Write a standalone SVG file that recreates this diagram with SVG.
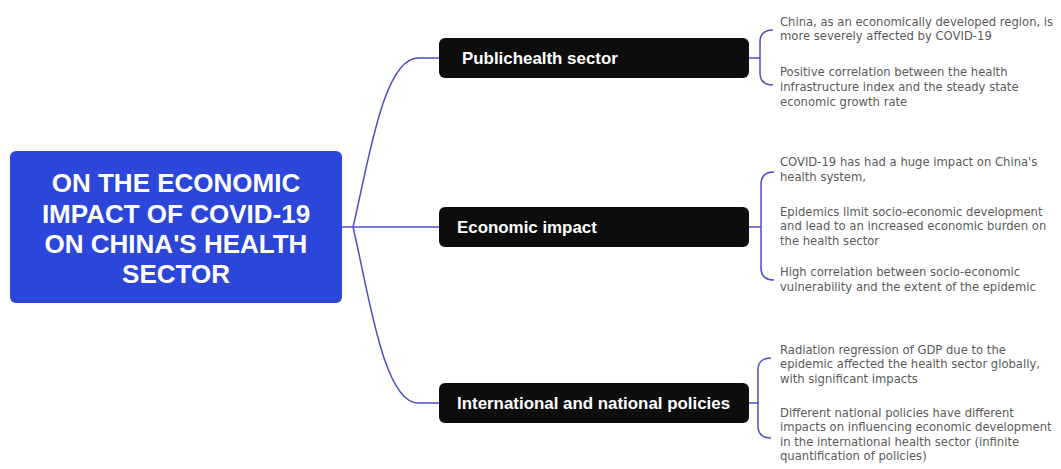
<svg xmlns="http://www.w3.org/2000/svg" width="1061" height="469" viewBox="0 0 1061 469">
  <style>
    .root-box { fill: #2b46d8; }
    .root-text { font-family: "Liberation Sans", Arial, sans-serif; font-weight: bold; font-size: 26px; fill: #ffffff; text-anchor: middle; }
    .branch-box { fill: #0d0d0d; }
    .branch-text { font-family: "Liberation Sans", Arial, sans-serif; font-weight: bold; font-size: 16.9px; fill: #ffffff; }
    .leaf-text { font-family: "DejaVu Sans", "Liberation Sans", sans-serif; font-size: 11.6px; fill: #5a5a5a; }
    .link { fill: none; stroke: #4a4ecb; stroke-width: 1.5; }
  </style>

  <rect width="1061" height="469" fill="#ffffff"/>

  <!-- connectors -->
  <g id="connectors">
    <path class="link" d="M342,227 L439,227"/>
    <path class="link" d="M353,227 C368,165 383,58 418,58 L439,58"/>
    <path class="link" d="M353,227 C368,289 383,403 418,403 L439,403"/>
    <!-- brackets toward the detail notes -->
    <path class="link" d="M749,58 L760,58 M773,30 Q760,30 760,42 L760,73 Q760,85 773,85"/>
    <path class="link" d="M749,227 L761,227 M774,172 Q761,172 761,184 L761,268 Q761,280 774,280"/>
    <path class="link" d="M749,403 L758,403 M771,358 Q758,358 758,370 L758,426 Q758,438 771,438"/>
  </g>

  <!-- root -->
  <g id="root">
    <rect class="root-box" x="10" y="151" width="332" height="152" rx="6"/>
    <text class="root-text" x="176" y="192">ON THE ECONOMIC</text>
    <text class="root-text" x="176" y="223">IMPACT OF COVID-19</text>
    <text class="root-text" x="176" y="253">ON CHINA'S HEALTH</text>
    <text class="root-text" x="176" y="283">SECTOR</text>
  </g>

  <!-- branch: public health -->
  <g id="public-health">
    <rect class="branch-box" x="439" y="38" width="310" height="40" rx="6"/>
    <text class="branch-text" x="462" y="64">Publichealth sector</text>
  </g>
  <g id="public-health-notes">
    <text class="leaf-text" x="780" y="26">China, as an economically developed region, is</text>
    <text class="leaf-text" x="780" y="40">more severely affected by COVID-19</text>
    <text class="leaf-text" x="780" y="76">Positive correlation between the health</text>
    <text class="leaf-text" x="780" y="91">infrastructure index and the steady state</text>
    <text class="leaf-text" x="780" y="106">economic growth rate</text>
  </g>

  <!-- branch: economic impact -->
  <g id="economic-impact">
    <rect class="branch-box" x="439" y="207" width="310" height="40" rx="6"/>
    <text class="branch-text" x="457" y="233">Economic impact</text>
  </g>
  <g id="economic-impact-notes">
    <text class="leaf-text" x="780" y="166">COVID-19 has had a huge impact on China's</text>
    <text class="leaf-text" x="780" y="181">health system,</text>
    <text class="leaf-text" x="780" y="216">Epidemics limit socio-economic development</text>
    <text class="leaf-text" x="780" y="230">and lead to an increased economic burden on</text>
    <text class="leaf-text" x="780" y="245">the health sector</text>
    <text class="leaf-text" x="780" y="276">High correlation between socio-economic</text>
    <text class="leaf-text" x="780" y="291">vulnerability and the extent of the epidemic</text>
  </g>

  <!-- branch: policies -->
  <g id="policies">
    <rect class="branch-box" x="439" y="383" width="310" height="40" rx="6"/>
    <text class="branch-text" x="457" y="409">International and national policies</text>
  </g>
  <g id="policies-notes">
    <text class="leaf-text" x="780" y="354">Radiation regression of GDP due to the</text>
    <text class="leaf-text" x="780" y="368">epidemic affected the health sector globally,</text>
    <text class="leaf-text" x="780" y="383">with significant impacts</text>
    <text class="leaf-text" x="780" y="417">Different national policies have different</text>
    <text class="leaf-text" x="780" y="431">impacts on influencing economic development</text>
    <text class="leaf-text" x="780" y="446">in the international health sector (infinite</text>
    <text class="leaf-text" x="780" y="460">quantification of policies)</text>
  </g>
</svg>
